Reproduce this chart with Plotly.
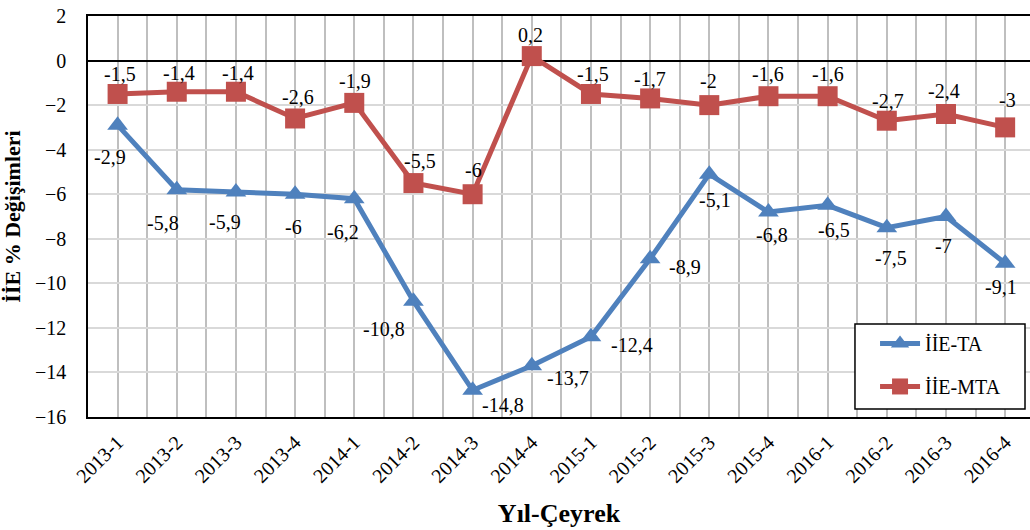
import plotly.graph_objects as go

categories = ["2013-1", "2013-2", "2013-3", "2013-4", "2014-1", "2014-2", "2014-3", "2014-4",
              "2015-1", "2015-2", "2015-3", "2015-4", "2016-1", "2016-2", "2016-3", "2016-4"]
ta_values = [-2.9, -5.8, -5.9, -6, -6.2, -10.8, -14.8, -13.7, -12.4, -8.9, -5.1, -6.8, -6.5, -7.5, -7, -9.1]
mta_values = [-1.5, -1.4, -1.4, -2.6, -1.9, -5.5, -6, 0.2, -1.5, -1.7, -2, -1.6, -1.6, -2.7, -2.4, -3]

# label offsets in pixels (dx, dy with dy positive = downward)
ta_label_offsets = [(-8, 32), (-14, 33), (-11, 30), (-2, 33), (-11, 33), (-29, 28), (30, 15), (36, 12),
                    (41, 8), (35, 8), (6, 26), (4, 23), (6, 25), (4, 30), (-2, 29), (-4, 24)]
mta_label_offsets = [(2, -20), (2, -19), (2, -19), (3, -21), (1, -22), (7, -22), (1, -24), (-1, -21),
                     (2, -20), (0, -19), (-1, -24), (0, -22), (0, -22), (1, -20), (-2, -23), (2, -27)]

BLUE = "#4F81BD"
RED = "#C0504D"
FONT = "'Times New Roman', 'Liberation Serif', 'DejaVu Serif', serif"

x_idx = list(range(len(categories)))

def fmt(v):
    return ("%g" % v).replace(".", ",")

fig = go.Figure()
fig.add_trace(go.Scatter(
    x=x_idx, y=ta_values, mode="lines+markers", name="İİE-TA",
    line=dict(color=BLUE, width=5),
    marker=dict(symbol="triangle-up", size=18, color=BLUE),
    legendgroup="a",
))
fig.add_trace(go.Scatter(
    x=x_idx, y=mta_values, mode="lines+markers", name="İİE-MTA",
    line=dict(color=RED, width=5),
    marker=dict(symbol="square", size=20, color=RED),
    legendgroup="b",
))

annotations = []
for vals, offs in ((ta_values, ta_label_offsets), (mta_values, mta_label_offsets)):
    for i, v in enumerate(vals):
        dx, dy = offs[i]
        annotations.append(dict(x=i, y=v, text=fmt(v), showarrow=False, xshift=dx, yshift=-dy,
                                xanchor="center", yanchor="middle",
                                font=dict(family=FONT, size=20, color="black")))

fig.update_layout(
    width=1030, height=530,
    margin=dict(l=88, r=0, t=16, b=113, autoexpand=False),
    paper_bgcolor="white", plot_bgcolor="white",
    font=dict(family=FONT, size=20, color="black"),
    annotations=annotations,
    showlegend=True,
    legend=dict(
        x=0.8355, y=0.232, xanchor="left", yanchor="top",
        borderwidth=0, bgcolor="rgba(255,255,255,0)",
        font=dict(family=FONT, size=20, color="black"),
        tracegroupgap=14,
        itemwidth=40,
    ),
    shapes=[dict(type="rect", xref="paper", yref="paper",
                 x0=0.8142, x1=0.9947, y0=0.020, y1=0.2319,
                 line=dict(color="black", width=1.5), fillcolor="white", layer="above")],
)

fig.update_xaxes(
    range=[-0.5, 15.42], automargin=False,
    tickmode="array", tickvals=x_idx, ticktext=categories,
    tickangle=-45, ticks="", ticklabelstandoff=4, ticklabeloverflow="allow",
    tickfont=dict(family=FONT, size=20, color="black"),
    showgrid=True, gridcolor="#BFBFBF", gridwidth=1.5,
    minor=dict(tickmode="linear", tick0=0, dtick=0.5, showgrid=True, gridcolor="#BFBFBF", gridwidth=1.5),
    showline=True, linecolor="black", linewidth=1.5, mirror=True,
    zeroline=False,
    title=dict(text="<b>Yıl-Çeyrek</b>", font=dict(family=FONT, size=26, color="black"), standoff=18),
)
fig.update_yaxes(
    range=[-16, 2], automargin=False, tickmode="linear", tick0=0, dtick=2,
    ticks="", ticklabelstandoff=16, ticklabeloverflow="allow",
    tickfont=dict(family=FONT, size=20, color="black"),
    showgrid=True, gridcolor="#D9D9D9", gridwidth=1.5,
    zeroline=True, zerolinecolor="black", zerolinewidth=1.5,
    showline=True, linecolor="black", linewidth=1.5,
    title=dict(text="<b>İİE % Değişimleri</b>", font=dict(family=FONT, size=22, color="black"), standoff=10),
)

fig.write_html("out.html", config={"displayModeBar": False},
               post_script="document.body.style.margin='0';")
